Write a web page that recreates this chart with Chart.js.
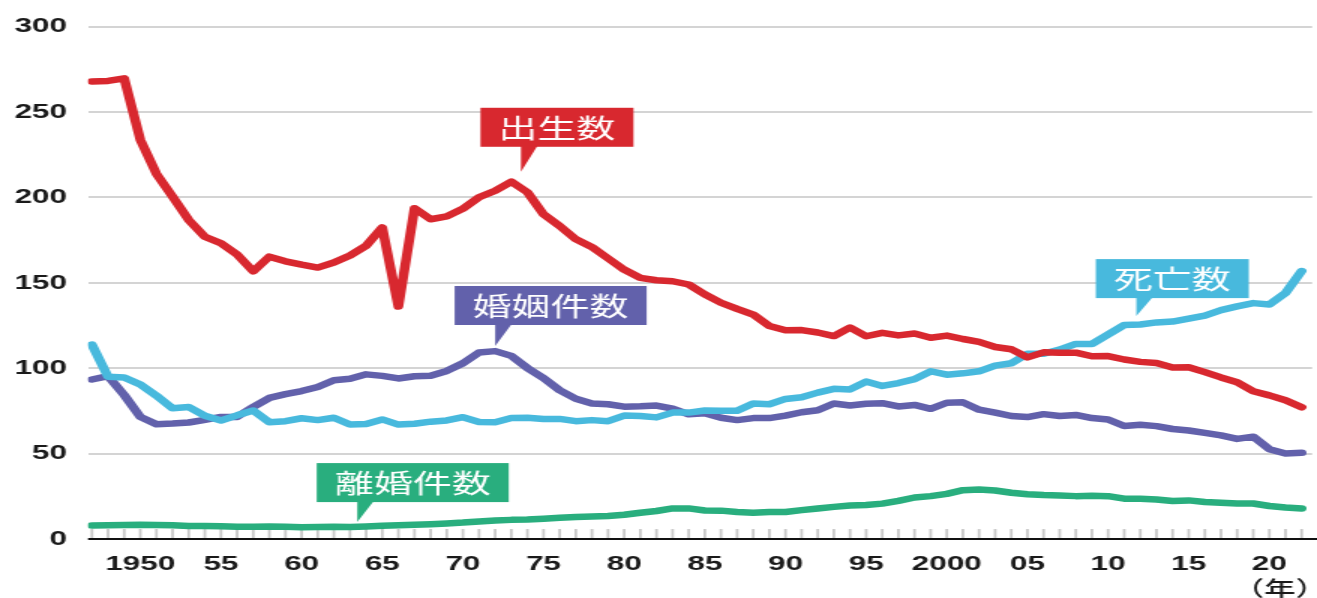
<!DOCTYPE html>
<html lang="ja">
<head>
<meta charset="utf-8">
<title>出生数・死亡数・婚姻件数・離婚件数の推移</title>
<script src="https://cdn.jsdelivr.net/npm/chart.js@4"></script>
<style>
  html, body { margin: 0; padding: 0; background: #fff; overflow: hidden; }
  /* the chart is laid out narrow and stretched sideways, wide type */
  #wrap { width: 878px; height: 598px; transform: scaleX(1.5); transform-origin: 0 0; }
</style>
</head>
<body>
<div id="wrap"><canvas id="vitalChart"></canvas></div>
<script>
// 単位: 万人・万組
const years = [1947, 1948, 1949, 1950, 1951, 1952, 1953, 1954, 1955, 1956, 1957, 1958, 1959,
  1960, 1961, 1962, 1963, 1964, 1965, 1966, 1967, 1968, 1969, 1970, 1971, 1972, 1973, 1974,
  1975, 1976, 1977, 1978, 1979, 1980, 1981, 1982, 1983, 1984, 1985, 1986, 1987, 1988, 1989,
  1990, 1991, 1992, 1993, 1994, 1995, 1996, 1997, 1998, 1999, 2000, 2001, 2002, 2003, 2004,
  2005, 2006, 2007, 2008, 2009, 2010, 2011, 2012, 2013, 2014, 2015, 2016, 2017, 2018, 2019,
  2020, 2021, 2022];

const births = [267.9, 268.2, 269.7, 233.8, 213.8, 200.5, 186.8, 177.0, 173.1, 166.5, 156.7, 165.3, 162.6,
  160.6, 158.9, 161.9, 166.0, 171.7, 182.4, 136.1, 193.6, 187.2, 188.9, 193.4, 200.1, 203.9, 209.2, 203.0,
  190.1, 183.3, 175.5, 170.9, 164.3, 157.7, 152.9, 151.5, 150.9, 149.0, 143.2, 138.3, 134.7, 131.4, 124.7,
  122.2, 122.3, 120.9, 118.8, 123.8, 118.7, 120.7, 119.2, 120.3, 117.8, 119.1, 117.1, 115.4, 112.4, 111.1,
  106.3, 109.3, 109.0, 109.1, 107.0, 107.1, 105.1, 103.7, 103.0, 100.4, 100.6, 97.7, 94.6, 91.8, 86.5,
  84.1, 81.2, 77.1];

const deaths = [113.8, 95.0, 94.5, 90.5, 83.9, 76.5, 77.3, 72.1, 69.4, 72.4, 75.2, 68.4, 69.0,
  70.7, 69.6, 71.0, 67.1, 67.3, 70.0, 67.0, 67.5, 68.7, 69.4, 71.3, 68.5, 68.4, 70.9, 71.0,
  70.2, 70.3, 69.0, 69.6, 69.0, 72.3, 72.0, 71.2, 74.0, 74.0, 75.2, 75.1, 75.1, 79.3, 78.9,
  82.0, 83.0, 85.7, 87.9, 87.6, 92.2, 89.6, 91.3, 93.6, 98.2, 96.2, 97.0, 98.2, 101.5, 102.9,
  108.4, 108.5, 110.9, 114.2, 114.2, 119.7, 125.3, 125.6, 126.8, 127.3, 129.0, 130.8, 134.0, 136.2, 138.1,
  137.3, 144.0, 156.9];

const marriages = [93.4, 95.4, 84.3, 71.5, 67.2, 67.6, 68.2, 69.8, 71.5, 71.5, 77.3, 82.6, 84.8,
  86.6, 89.0, 92.9, 93.8, 96.4, 95.5, 94.0, 95.3, 95.6, 98.4, 102.9, 109.2, 110.0, 107.2, 100.1,
  94.2, 87.1, 82.1, 79.3, 78.9, 77.5, 77.7, 78.1, 76.3, 73.0, 73.6, 71.0, 69.6, 70.8, 70.8,
  72.2, 74.2, 75.4, 79.3, 78.2, 79.2, 79.5, 77.6, 78.5, 76.2, 79.8, 80.0, 75.7, 74.0, 72.0,
  71.4, 73.1, 72.0, 72.6, 70.8, 70.0, 66.2, 66.9, 66.1, 64.4, 63.5, 62.1, 60.7, 58.6, 59.9,
  52.6, 50.1, 50.5];

const divorces = [7.9, 8.0, 8.2, 8.4, 8.2, 8.0, 7.6, 7.6, 7.5, 7.2, 7.1, 7.3, 7.2,
  6.9, 7.0, 7.1, 7.0, 7.3, 7.7, 8.0, 8.4, 8.7, 9.1, 9.6, 10.3, 10.8, 11.2, 11.4,
  11.9, 12.4, 12.9, 13.2, 13.5, 14.2, 15.4, 16.4, 17.9, 17.9, 16.7, 16.6, 15.8, 15.4, 15.8,
  15.8, 16.9, 17.9, 18.8, 19.6, 19.9, 20.7, 22.3, 24.3, 25.1, 26.4, 28.6, 29.0, 28.4, 27.1,
  26.2, 25.7, 25.5, 25.1, 25.3, 25.1, 23.6, 23.5, 23.1, 22.2, 22.6, 21.7, 21.2, 20.8, 20.8,
  19.3, 18.4, 17.9];

const tickYears = [1950, 1955, 1960, 1965, 1970, 1975, 1980, 1985, 1990, 1995, 2000, 2005, 2010, 2015, 2020];
const tickLabels = ['1950', '55', '60', '65', '70', '75', '80', '85', '90', '95', '2000', '05', '10', '15', '20'];

const RED = '#d8282f';
const CYAN = '#48b9dd';
const PURPLE = '#6261ab';
const GREEN = '#29ae7e';

const numFont = "'Liberation Sans', Arial, sans-serif";
const jpFont = "'Noto Sans CJK JP', sans-serif";

// 吹き出しラベル: 先端の位置 (年, 値) と箱の持ち上げ量
const callouts = [
  { text: '出生数', color: RED, year: 1973.6, value: 215, lift: 25 },
  { text: '婚姻件数', color: PURPLE, year: 1972.0, value: 113, lift: 21 },
  { text: '死亡数', color: CYAN, year: 2011.75, value: 130.5, lift: 18 },
  { text: '離婚件数', color: GREEN, year: 1963.45, value: 9.9, lift: 20 }
];

function toPoints(values) {
  return years.map((yr, i) => ({ x: yr, y: values[i] }));
}

function lineSet(label, values, color) {
  return {
    label: label,
    data: toPoints(values),
    borderColor: color,
    borderWidth: 6.5,
    borderJoinStyle: 'round',
    borderCapStyle: 'round',
    pointRadius: 0,
    tension: 0,
    fill: false
  };
}

const decorPlugin = {
  id: 'decor',
  beforeDatasetsDraw(chart) {
    const { ctx, chartArea, scales: { x } } = chart;
    ctx.save();
    // 各年の目盛り
    ctx.strokeStyle = '#c8c8c8';
    ctx.lineWidth = 1.8;
    years.forEach(yr => {
      const px = x.getPixelForValue(yr);
      ctx.beginPath();
      ctx.moveTo(px, chartArea.bottom - 10);
      ctx.lineTo(px, chartArea.bottom);
      ctx.stroke();
    });
    // 横軸
    ctx.strokeStyle = '#111';
    ctx.lineWidth = 2;
    ctx.beginPath();
    ctx.moveTo(chartArea.left, chartArea.bottom);
    ctx.lineTo(chart.width, chartArea.bottom);
    ctx.stroke();
    ctx.restore();
  },
  afterDatasetsDraw(chart) {
    const { ctx, scales: { x, y } } = chart;
    ctx.save();
    ctx.font = '26px ' + jpFont;
    callouts.forEach(c => {
      const ax = x.getPixelForValue(c.year);
      const ay = y.getPixelForValue(c.value);
      const w = ctx.measureText(c.text).width + 24;
      const h = 39;
      const left = ax - 27;
      const bottom = ay - c.lift;
      ctx.fillStyle = c.color;
      ctx.fillRect(left, bottom - h, w, h);
      ctx.beginPath();
      ctx.moveTo(ax, bottom - 1);
      ctx.lineTo(ax + 11, bottom - 1);
      ctx.lineTo(ax, ay);
      ctx.closePath();
      ctx.fill();
      ctx.fillStyle = '#fff';
      ctx.textAlign = 'center';
      ctx.textBaseline = 'middle';
      ctx.fillText(c.text, left + w / 2, bottom - h / 2 + 1);
    });
    // 単位 (年)
    ctx.fillStyle = '#1a1a1a';
    ctx.font = '500 21px ' + jpFont;
    ctx.textAlign = 'center';
    ctx.textBaseline = 'middle';
    ctx.fillText('（年）', x.getPixelForValue(2020) + 7, 588);
    ctx.restore();
  }
};

new Chart(document.getElementById('vitalChart'), {
  type: 'line',
  data: {
    datasets: [
      lineSet('出生数', births, RED),
      lineSet('死亡数', deaths, CYAN),
      lineSet('婚姻件数', marriages, PURPLE),
      lineSet('離婚件数', divorces, GREEN)
    ]
  },
  options: {
    responsive: true,
    maintainAspectRatio: false,
    animation: false,
    layout: { padding: { top: 24, right: 1, bottom: 0, left: 0 } },
    plugins: {
      legend: { display: false },
      tooltip: { enabled: false }
    },
    scales: {
      x: {
        type: 'linear',
        min: 1946.76,
        max: 2022.65,
        afterFit(scale) { scale.height = 59; },
        afterBuildTicks(scale) { scale.ticks = tickYears.map(v => ({ value: v })); },
        grid: { display: false },
        border: { display: false },
        ticks: {
          autoSkip: false,
          maxRotation: 0,
          padding: 5,
          color: '#1a1a1a',
          font: { family: numFont, size: 21, weight: 'bold' },
          callback: (value, index) => tickLabels[index]
        }
      },
      y: {
        min: 0,
        max: 300,
        afterFit(scale) { scale.width = 58.7; },
        border: { display: false },
        grid: {
          drawTicks: false,
          lineWidth: 2,
          color: ctx => ctx.tick.value === 0 ? 'rgba(0,0,0,0)' : '#d4d4d4'
        },
        ticks: {
          stepSize: 50,
          padding: 14,
          color: '#1a1a1a',
          font: { family: numFont, size: 21, weight: 'bold' }
        }
      }
    }
  },
  plugins: [decorPlugin]
});
</script>
</body>
</html>
